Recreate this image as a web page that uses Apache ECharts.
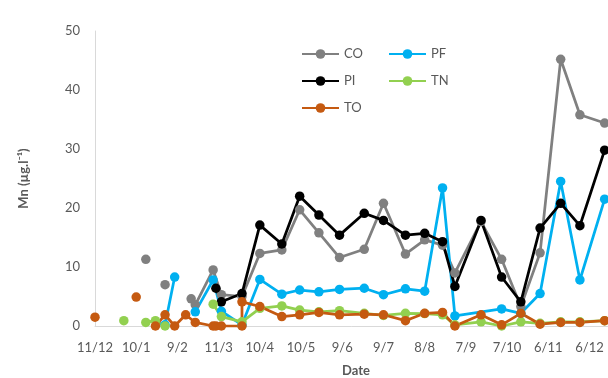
<!DOCTYPE html>
<html>
<head>
<meta charset="utf-8">
<script src="https://cdn.jsdelivr.net/npm/echarts@6/dist/echarts.min.js"></script>
<style>
  html, body { margin: 0; padding: 0; background: #ffffff; }
  #chart { width: 608px; height: 378px; }
</style>
</head>
<body>
<div id="chart"></div>
<script>
// Date axis labels, one every 30 days from the first sampling day (day/month)
const tickLabels = ['11/12', '10/1', '9/2', '11/3', '10/4', '10/5', '9/6', '9/7', '8/8', '7/9', '7/10', '6/11', '6/12'];
const startDate = '2018-12-11';

// Mn concentrations (µg/l) per site; null marks a gap in sampling
const coDates = ['2019-01-17', '2019-01-24', '2019-01-31', '2019-02-07', '2019-02-19', '2019-02-22', '2019-03-07', '2019-03-13', '2019-03-28',
  '2019-04-10', '2019-04-26', '2019-05-09', '2019-05-23', '2019-06-07', '2019-06-25', '2019-07-09', '2019-07-25', '2019-08-08',
  '2019-08-21', '2019-08-30', '2019-09-18', '2019-10-03', '2019-10-17', '2019-10-31', '2019-11-15', '2019-11-29', '2019-12-17'];
const coValues = [11.3, null, 7.0, null, 4.6, 3.6, 9.5, 5.3, 5.0,
  12.3, 12.9, 19.7, 15.8, 11.6, 13.0, 20.8, 12.2, 14.6,
  13.7, 9.0, 17.7, 11.3, 3.3, 12.4, 45.2, 35.8, 34.4];

const pfDates = ['2019-01-31', '2019-02-07', '2019-02-15', '2019-02-22', '2019-03-07', '2019-03-13', '2019-03-28',
  '2019-04-10', '2019-04-26', '2019-05-09', '2019-05-23', '2019-06-07', '2019-06-25', '2019-07-09', '2019-07-25', '2019-08-08',
  '2019-08-21', '2019-08-30', '2019-10-03', '2019-10-17', '2019-10-31', '2019-11-15', '2019-11-29', '2019-12-17'];
const pfValues = [0.2, 8.3, null, 2.4, 7.8, 2.5, 0.2,
  7.9, 5.4, 6.1, 5.8, 6.2, 6.4, 5.3, 6.3, 5.9,
  23.4, 1.7, 2.9, 2.15, 5.5, 24.5, 7.8, 21.5];

const piDates = ['2019-03-09', '2019-03-13', '2019-03-28', '2019-04-10', '2019-04-26', '2019-05-09', '2019-05-23', '2019-06-07',
  '2019-06-25', '2019-07-09', '2019-07-25', '2019-08-08', '2019-08-21', '2019-08-30', '2019-09-18', '2019-10-03', '2019-10-17',
  '2019-10-31', '2019-11-15', '2019-11-29', '2019-12-17'];
const piValues = [6.4, 4.1, 5.5, 17.1, 13.9, 22.0, 18.8, 15.4,
  19.1, 17.9, 15.4, 15.7, 14.3, 6.7, 17.9, 8.3, 4.1,
  16.6, 20.8, 17.0, 29.8];

const tnDates = ['2019-01-01', '2019-01-10', '2019-01-17', '2019-01-24', '2019-01-31', '2019-02-15', '2019-03-07', '2019-03-13',
  '2019-03-28', '2019-04-10', '2019-04-26', '2019-05-09', '2019-05-23', '2019-06-07', '2019-06-25', '2019-07-09', '2019-07-25',
  '2019-08-08', '2019-08-21', '2019-08-30', '2019-09-18', '2019-10-03', '2019-10-17', '2019-10-31', '2019-11-15', '2019-11-29', '2019-12-17'];
const tnValues = [0.9, null, 0.6, 0.9, 0.0, null, 3.7, 1.6,
  0.7, 3.0, 3.4, 2.7, 2.4, 2.6, 2.15, 1.8, 2.15,
  2.1, 1.9, 0.2, 0.7, 0.0, 0.7, 0.45, 0.7, 0.7, 0.9];

const toDates = ['2018-12-11', '2018-12-20', '2019-01-10', '2019-01-17', '2019-01-24', '2019-01-31', '2019-02-07', '2019-02-15',
  '2019-02-22', '2019-03-07', '2019-03-09', '2019-03-13', '2019-03-28', '2019-03-28', '2019-04-10', '2019-04-26', '2019-05-09',
  '2019-05-23', '2019-06-07', '2019-06-25', '2019-07-09', '2019-07-25', '2019-08-08', '2019-08-21', '2019-08-30', '2019-09-18',
  '2019-10-03', '2019-10-17', '2019-10-31', '2019-11-15', '2019-11-29', '2019-12-17'];
const toValues = [1.5, null, 4.9, null, 0.0, 1.9, 0.0, 1.9,
  0.6, 0.0, 0.0, 0.0, 0.0, 4.1, 3.3, 1.6, 1.9,
  2.3, 1.9, 2.0, 1.9, 0.9, 2.15, 2.3, 0.0, 1.9,
  0.2, 2.15, 0.3, 0.6, 0.6, 0.9];

const DAY_MS = 86400000;
function dayOf(dateStr) {
  return Math.round((Date.parse(dateStr) - Date.parse(startDate)) / DAY_MS);
}
function toPairs(dates, values) {
  return dates.map((d, i) => [dayOf(d), values[i] == null ? '-' : values[i]]);
}

const textColor = '#595959';
const fontFamily = 'Lato, "DejaVu Sans", sans-serif';

function lineSeries(name, color, dates, values) {
  return {
    name: name,
    type: 'line',
    data: toPairs(dates, values),
    symbol: 'circle',
    symbolSize: 9.5,
    showAllSymbol: true,
    connectNulls: false,
    lineStyle: { color: color, width: 2.75 },
    itemStyle: { color: color, borderColor: color, borderWidth: 0 },
    emphasis: { disabled: true }
  };
}

const chart = echarts.init(document.getElementById('chart'), null, { renderer: 'canvas' });
chart.setOption({
  animation: false,
  backgroundColor: '#ffffff',
  textStyle: { fontFamily: fontFamily },
  grid: { left: 95, right: -9, top: 31, bottom: 52, containLabel: false, outerBoundsMode: 'none' },
  legend: {
    orient: 'horizontal',
    left: 296,
    top: 42,
    width: 185,
    itemWidth: 37,
    itemHeight: 12,
    itemGap: 13,
    data: ['CO', 'PF', 'PI', 'TN', 'TO'],
    textStyle: { color: textColor, fontSize: 13, fontFamily: fontFamily, width: 31, lineHeight: 14 }
  },
  xAxis: {
    type: 'value',
    min: 0,
    max: 380,
    interval: 30,
    name: 'Date',
    nameLocation: 'middle',
    nameGap: 38,
    nameTextStyle: { color: textColor, fontSize: 13, fontWeight: 'bold', fontFamily: fontFamily },
    axisLine: { show: true, lineStyle: { color: '#d9d9d9', width: 1 } },
    axisTick: { show: false },
    splitLine: { show: false },
    axisLabel: {
      color: textColor,
      fontSize: 13,
      margin: 15,
      showMaxLabel: false,
      formatter: function (v) {
        const i = Math.round(v / 30);
        return tickLabels[i] !== undefined ? tickLabels[i] : '';
      }
    }
  },
  yAxis: {
    type: 'value',
    min: 0,
    max: 50,
    interval: 10,
    name: 'Mn (µg.l⁻¹)',
    nameLocation: 'middle',
    nameGap: 65,
    nameTextStyle: { color: textColor, fontSize: 13, fontWeight: 'bold', fontFamily: fontFamily },
    axisLine: { show: true, lineStyle: { color: '#d9d9d9', width: 1 } },
    axisTick: { show: false },
    splitLine: { show: false },
    axisLabel: { color: textColor, fontSize: 13, margin: 15 }
  },
  series: [
    lineSeries('CO', '#808080', coDates, coValues),
    lineSeries('PF', '#00B0F0', pfDates, pfValues),
    lineSeries('PI', '#000000', piDates, piValues),
    lineSeries('TN', '#92D050', tnDates, tnValues),
    lineSeries('TO', '#C55A11', toDates, toValues)
  ]
});
</script>
</body>
</html>
